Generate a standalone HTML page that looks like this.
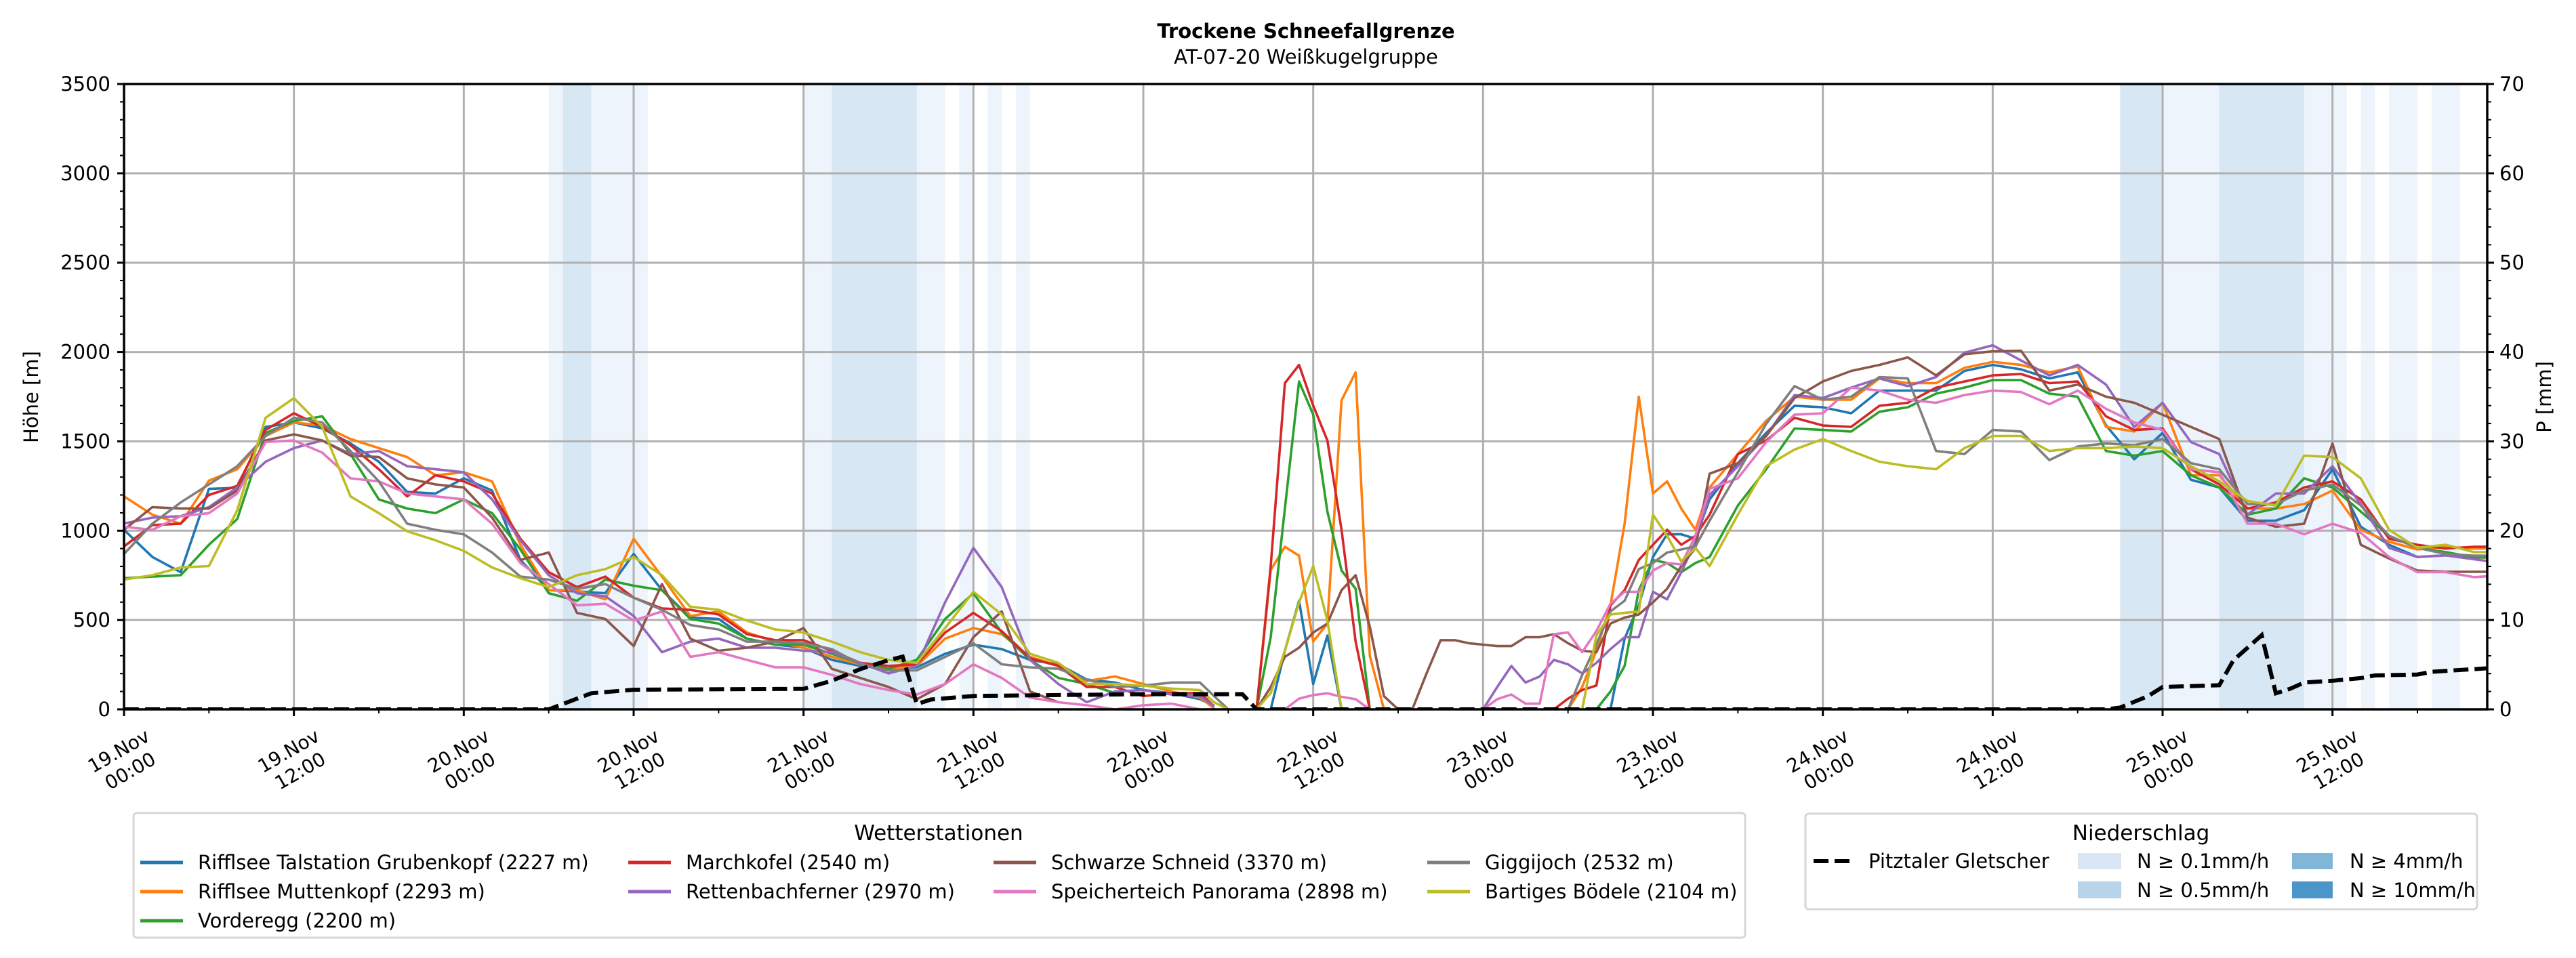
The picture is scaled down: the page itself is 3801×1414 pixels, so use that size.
<!DOCTYPE html>
<html><head><meta charset="utf-8"><title>Trockene Schneefallgrenze</title>
<style>
html,body{margin:0;padding:0;background:#fff;}
svg{display:block;font-family:"DejaVu Sans","Liberation Sans",sans-serif;}
</style></head>
<body>
<svg id="chart" xmlns="http://www.w3.org/2000/svg" width="3801" height="1414" viewBox="0 0 3801 1414">
<rect x="0" y="0" width="3801" height="1414" fill="#fff"/>
<text x="1927" y="56" text-anchor="middle" font-size="29" font-weight="bold">Trockene Schneefallgrenze</text>
<text x="1927" y="94" text-anchor="middle" font-size="29">AT-07-20 Weißkugelgruppe</text>
<defs><clipPath id="plotclip"><rect x="183" y="124" width="3487" height="923"/></clipPath></defs>
<g id="bands"></g>
<g id="grid"></g>
<g id="series" clip-path="url(#plotclip)"></g>
<g id="precip" clip-path="url(#plotclip)"></g>
<g id="axes"></g>
<text transform="translate(56,586) rotate(-90)" text-anchor="middle" font-size="29">Höhe [m]</text>
<text transform="translate(3764,586) rotate(-90)" text-anchor="middle" font-size="29">P [mm]</text>
<g>
  <rect x="197" y="1200" width="2378" height="184" rx="5" fill="#fff" stroke="#d6d6d6" stroke-width="3"/>
  <text x="1385" y="1240" text-anchor="middle" font-size="31">Wetterstationen</text>
  <g id="stationLegend"></g>
</g>
<g>
  <rect x="2664" y="1201" width="991" height="141" rx="5" fill="#fff" stroke="#d6d6d6" stroke-width="3"/>
  <text x="3159" y="1240" text-anchor="middle" font-size="31">Niederschlag</text>
  <line x1="2676" y1="1271" x2="2731" y2="1271" stroke="#000" stroke-width="6" stroke-dasharray="22,9"/>
  <text x="2757" y="1281" font-size="29">Pitztaler Gletscher</text>
  <rect x="3066" y="1259" width="64" height="24" fill="#d9e7f4"/>
  <text x="3153" y="1281" font-size="29">N ≥ 0.1mm/h</text>
  <rect x="3066" y="1301" width="64" height="25" fill="#b8d4ea"/>
  <text x="3153" y="1324" font-size="29">N ≥ 0.5mm/h</text>
  <rect x="3382" y="1259" width="60" height="24" fill="#80b7d9"/>
  <text x="3467" y="1281" font-size="29">N ≥ 4mm/h</text>
  <rect x="3382" y="1301" width="60" height="25" fill="#4b96c8"/>
  <text x="3467" y="1324" font-size="29">N ≥ 10mm/h</text>
</g>
</svg>
<script>
const hours = [0,2,4,6,8,10,12,14,16,18,20,22,24,26,28,30,32,34,36,38,40,42,44,46,48,50,52,54,56,58,60,62,64,66,68,70,72,74,76,
77,78,79,80,81,82,83,84,85,86,87,88,89,90,91,92,93,94,95,96,97,98,99,100,101,102,103,104,105,106,107,108,109,110,111,
112,114,116,118,120,122,124,126,128,130,132,134,136,138,140,142,144,146,148,150,152,154,156,158,160,162,164,166,167];
const _ = null;
const talstation = [1005,853,768,1234,1240,1581,1606,1573,1488,1386,1217,1208,1293,1225,836,667,660,650,870,667,514,506,396,362,345,277,243,227,235,311,362,337,277,252,167,150,108,91,57,
20,_,_,_,0,328,608,142,413,0,_,_,_,_,_,_,_,_,_,_,_,_,_,_,_,_,_,_,0,396,582,853,980,980,955,
1175,1378,1547,1699,1691,1657,1784,1784,1784,1894,1928,1903,1852,1886,1590,1400,1547,1285,1242,1056,1056,1115,1344,1022,921,853,862,850,850];
const muttenkopf = [1192,1090,1039,1280,1344,1530,1606,1589,1513,1462,1412,1310,1327,1276,921,667,667,616,955,743,523,548,430,379,345,294,252,227,243,396,455,421,294,243,159,184,142,100,66,
6,_,_,0,780,910,860,380,480,1730,1886,300,0,_,_,_,_,_,_,_,_,_,_,_,_,0,125,328,582,1039,1750,1208,1276,1124,1005,
1242,1429,1615,1750,1733,1733,1852,1826,1826,1911,1945,1928,1886,1919,1581,1555,1716,1310,1310,1124,1124,1149,1225,1005,938,895,910,900,900];
const vorderegg = [734,743,751,921,1065,1547,1614,1640,1429,1175,1124,1098,1175,1098,895,650,608,726,692,667,506,480,396,362,362,311,260,227,277,506,650,430,277,176,142,91,_,_,_,
_,_,_,0,404,1124,1835,1649,1107,777,675,0,_,_,_,_,_,_,_,_,_,_,_,_,_,_,_,0,100,243,667,836,819,768,819,
853,1141,1344,1572,1564,1555,1666,1691,1767,1801,1843,1843,1767,1750,1446,1420,1446,1310,1242,1090,1124,1293,1242,1107,971,904,880,850,850];
const marchkofel = [912,1031,1039,1200,1251,1564,1657,1581,1479,1344,1192,1310,1276,1208,955,768,684,743,625,565,557,531,421,387,387,328,260,243,252,430,540,438,286,243,125,125,74,91,91,
17,_,_,0,802,1826,1928,1700,1505,1005,379,0,_,_,_,_,_,_,_,_,_,_,_,_,0,60,108,133,582,667,836,921,1005,921,971,
1090,1429,1505,1632,1589,1581,1699,1716,1801,1835,1869,1877,1826,1835,1640,1564,1572,1344,1259,1124,1158,1242,1276,1175,955,921,900,910,910];
const rettenbach = [1040,1073,1081,1132,1242,1386,1462,1505,1429,1446,1361,1344,1327,1175,946,751,650,633,523,320,379,396,345,345,328,320,260,201,243,599,904,684,277,142,40,100,108,83,74,
17,_,_,_,_,_,_,_,_,_,_,_,_,_,_,_,_,_,_,0,125,243,150,184,277,252,201,260,337,404,404,658,616,768,938,
1200,1361,1530,1759,1742,1801,1852,1809,1860,1996,2038,1953,1869,1928,1818,1581,1716,1496,1429,1090,1208,1208,1361,1149,904,853,862,840,830];
const schwarzeSchneid = [1005,1132,1124,1124,1225,1505,1539,1505,1420,1412,1293,1259,1242,1073,836,878,540,506,354,701,396,328,345,379,455,227,176,125,57,142,404,548,100,40,_,_,_,_,_,
_,_,_,0,125,294,345,430,480,667,751,463,74,0,0,200,387,387,370,362,354,354,404,404,421,370,328,320,480,514,531,599,675,802,904,
1319,1378,1530,1742,1835,1894,1928,1970,1869,1987,2004,2007,1784,1818,1750,1716,1649,1581,1513,1073,1022,1039,1488,921,844,777,770,770,770];
const speicherteich = [1022,1005,1081,1098,1208,1496,1505,1437,1293,1276,1208,1192,1175,1039,819,701,582,591,497,548,294,320,277,235,235,193,142,108,83,142,252,176,66,40,23,0,23,32,0,
_,_,_,_,_,0,60,80,90,70,57,0,_,_,_,_,_,_,_,0,57,83,32,32,421,430,320,438,591,658,658,777,819,811,971,
1234,1293,1496,1649,1657,1801,1784,1733,1716,1759,1784,1776,1708,1784,1682,1606,1564,1344,1327,1039,1039,980,1039,988,853,768,768,740,745];
const giggijoch = [870,1039,1158,1259,1361,1530,1632,1606,1446,1276,1039,1005,980,878,743,726,675,701,625,557,472,447,379,379,370,337,252,218,218,294,370,252,235,227,167,125,133,150,150,
74,0,_,_,_,_,_,_,_,_,_,_,_,_,_,_,_,_,_,_,_,_,_,_,_,0,193,362,548,608,785,819,878,895,912,
1056,1327,1598,1809,1733,1750,1860,1852,1446,1429,1564,1555,1395,1471,1488,1479,1513,1378,1344,1149,1149,1225,1259,1141,971,904,870,860,860];
const boedele = [726,751,794,802,1115,1632,1742,1581,1192,1098,997,946,887,794,734,684,751,785,853,751,574,557,497,447,430,379,320,277,260,455,658,531,311,260,142,142,133,116,108,
40,0,_,0,91,328,599,802,497,0,_,_,_,_,_,_,_,_,_,_,_,_,_,_,_,_,0,413,531,540,548,1090,971,828,904,
802,1090,1361,1454,1513,1446,1386,1361,1344,1462,1530,1530,1446,1462,1462,1471,1462,1361,1276,1166,1141,1420,1412,1293,1005,904,921,880,880];
const seriesColors = ["#1f77b4","#ff7f0e","#2ca02c","#d62728","#9467bd","#8c564b","#e377c2","#7f7f7f","#bcbd22"];
const stationNames = ["Rifflsee Talstation Grubenkopf (2227 m)","Rifflsee Muttenkopf (2293 m)","Vorderegg (2200 m)","Marchkofel (2540 m)","Rettenbachferner (2970 m)","Schwarze Schneid (3370 m)","Speicherteich Panorama (2898 m)","Giggijoch (2532 m)","Bartiges Bödele (2104 m)"];
const precipHours = [0,30,31,33,36,48,50,52,54,55,56,57,60,66,72,78,79,80,140,141,143,144,148,149,151,152,153,154,156,158,159,162,163,167];
const precipMm = [0,0,0.6,1.8,2.2,2.3,3.2,4.5,5.5,5.9,0.6,1.1,1.5,1.6,1.7,1.7,1.7,0,0,0.2,1.5,2.5,2.7,5.5,8.3,1.8,2.3,3.0,3.2,3.5,3.8,3.9,4.2,4.6];
const bandStart = [30,31,48,50,59,61,63,141,144,148,154,158,160,163];
const bandEnd   = [37,33,58,56,60,62,64,144,148,154,157,159,162,165];
const bandLevel = [1,2,1,2,1,1,1,2,1,2,1,1,1,1];
const yTicks = [0,500,1000,1500,2000,2500,3000,3500];
const y2Ticks = [0,10,20,30,40,50,60,70];
const xTickHours = [0,12,24,36,48,60,72,84,96,108,120,132,144,156];
const xTickDays = ["19.Nov","19.Nov","20.Nov","20.Nov","21.Nov","21.Nov","22.Nov","22.Nov","23.Nov","23.Nov","24.Nov","24.Nov","25.Nov","25.Nov"];
const xTickTimes = ["00:00","12:00","00:00","12:00","00:00","12:00","00:00","12:00","00:00","12:00","00:00","12:00","00:00","12:00"];

const allSeries = [talstation,muttenkopf,vorderegg,marchkofel,rettenbach,schwarzeSchneid,speicherteich,giggijoch,boedele];
const NS = "http://www.w3.org/2000/svg";
const L = 183, R = 3670, T = 124, B = 1047;
const HMAX = 166.93, VMAX = 3500, PMAX = 70;
function xs(h){ return L + h/HMAX*(R-L); }
function ys(v){ return B - v/VMAX*(B-T); }
function ys2(p){ return B - p/PMAX*(B-T); }
function mk(tag, attrs, parent){ const e=document.createElementNS(NS,tag); for(const k in attrs) e.setAttribute(k,attrs[k]); parent.appendChild(e); return e; }

const gB = document.getElementById('bands');
for(let i=0;i<bandStart.length;i++){
  const r = mk('rect',{x:xs(bandStart[i]),y:T,width:xs(bandEnd[i])-xs(bandStart[i]),height:B-T,fill:bandLevel[i]===2?'#d7e7f4':'#edf4fb'},gB);
  
  
}
const gG = document.getElementById('grid');
yTicks.forEach(v=>{ const l=mk('line',{x1:L,x2:R,y1:ys(v),y2:ys(v),stroke:'#b0b0b0','stroke-width':3},gG);
  
   });
xTickHours.forEach(h=>{ const l=mk('line',{x1:xs(h),x2:xs(h),y1:T,y2:B,stroke:'#b0b0b0','stroke-width':3},gG);
  
   });

const gS = document.getElementById('series');
allSeries.forEach((vals,si)=>{
  let d='', pen=false;
  for(let i=0;i<hours.length;i++){
    const v=vals[i];
    if(v===null){pen=false;continue;}
    d += (pen?'L':'M') + xs(hours[i]).toFixed(1) + ',' + ys(v).toFixed(1);
    pen=true;
  }
  const p = mk('path',{d:d,fill:'none',stroke:seriesColors[si],'stroke-width':3.6,'stroke-linejoin':'round'},gS);
  
  
});
const gP = document.getElementById('precip');
let pd=''; precipHours.forEach((h,i)=>{ pd += (i?'L':'M') + xs(h).toFixed(1)+','+ys2(precipMm[i]).toFixed(1); });
const pl = mk('path',{d:pd,fill:'none',stroke:'#000','stroke-width':6,'stroke-dasharray':'22,9'},gP);



const gA = document.getElementById('axes');
mk('rect',{x:L,y:T,width:R-L,height:B-T,fill:'none',stroke:'#000','stroke-width':3.5},gA);
for(let v=0; v<=3500; v+=100){
  const major = v%500===0;
  mk('line',{x1:L,x2:L-(major?10:6),y1:ys(v),y2:ys(v),stroke:'#000','stroke-width':major?3:2},gA);
}
for(let p=0;p<=70;p+=2){
  const major = p%10===0;
  mk('line',{x1:R,x2:R+(major?10:6),y1:ys2(p),y2:ys2(p),stroke:'#000','stroke-width':major?3:2},gA);
}
for(let h=0; h<=166; h+=6){
  const major = h%12===0;
  mk('line',{x1:xs(h),x2:xs(h),y1:B,y2:B+(major?10:6),stroke:'#000','stroke-width':major?3:2},gA);
}
yTicks.forEach(v=>{ const t=mk('text',{x:L-20,y:ys(v)+10,'text-anchor':'end','font-size':29},gA); t.textContent=v;
  
   });
y2Ticks.forEach(p=>{ const t=mk('text',{x:R+18,y:ys2(p)+10,'font-size':29},gA); t.textContent=p;
  
   });
xTickHours.forEach((h,i)=>{
  const g=mk('g',{transform:'translate('+xs(h).toFixed(1)+',1122) rotate(-30)'},gA);
  
  
  const t1=mk('text',{x:0,y:-6,'text-anchor':'middle','font-size':28},g); t1.textContent=xTickDays[i];
  const t2=mk('text',{x:0,y:28,'text-anchor':'middle','font-size':28},g); t2.textContent=xTickTimes[i];
});

const gL = document.getElementById('stationLegend');
const colText = [292,1012,1551,2191];
const rowY = [1273,1316,1359];
const layout = [[0,0],[0,1],[0,2],[1,0],[1,1],[2,0],[2,1],[3,0],[3,1]];
stationNames.forEach((n,i)=>{
  const c=layout[i][0], r=layout[i][1];
  const ln = mk('line',{x1:colText[c]-85,x2:colText[c]-22,y1:rowY[r],y2:rowY[r],stroke:seriesColors[i],'stroke-width':5},gL);
  
  
  const t = mk('text',{x:colText[c],y:rowY[r]+10,'font-size':29},gL); t.textContent=n;
  
  
});
</script>
</body></html>
